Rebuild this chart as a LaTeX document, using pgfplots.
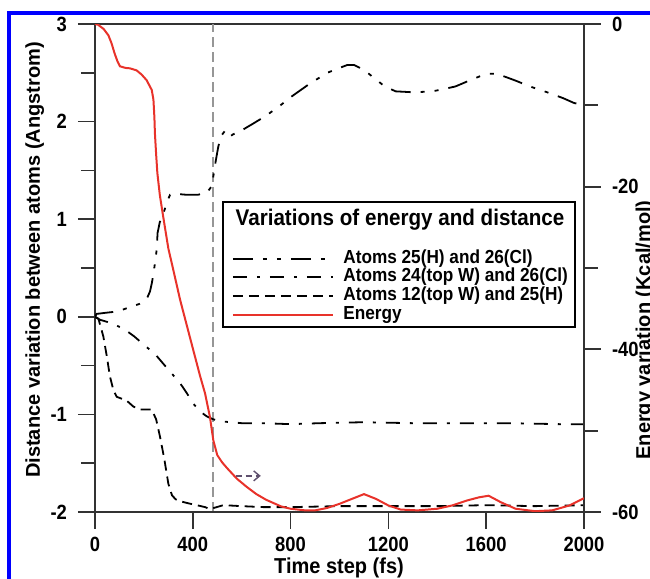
\documentclass[border=0pt]{standalone}
\usepackage{pgfplots}
\pgfplotsset{compat=1.18}
\usepackage{pgfplotstable}
\usepackage{fontspec}
\setmainfont{Liberation Sans}
\usetikzlibrary{arrows.meta}
\definecolor{axgray}{RGB}{50,50,50}
\definecolor{ered}{RGB}{232,50,42}
\definecolor{arrowc}{RGB}{95,80,110}
\definecolor{vgray}{RGB}{150,150,150}

% Atoms 25(H) and 26(Cl)
\pgfplotstableread{
x y
0 0
7 0.03
40 0.04
75 0.05
110 0.07
143 0.10
180 0.13
211 0.18
225 0.26
232 0.34
240 0.45
245 0.55
252 0.68
256 0.86
265 0.97
280 1.06
295 1.18
307 1.25
330 1.26
375 1.25
420 1.25
457 1.27
475 1.33
484 1.44
494 1.60
504 1.74
515 1.85
530 1.90
548 1.84
565 1.87
600 1.91
647 1.98
693 2.05
750 2.15
800 2.25
879 2.39
950 2.50
1000 2.55
1032 2.58
1060 2.58
1100 2.53
1140 2.45
1185 2.36
1230 2.31
1304 2.30
1380 2.31
1420 2.33
1474 2.36
1540 2.43
1580 2.47
1610 2.49
1640 2.49
1677 2.46
1720 2.42
1779 2.36
1850 2.30
1915 2.24
1960 2.19
2000 2.17
}\sone

% Atoms 24(top W) and 26(Cl)
\pgfplotstableread{
x y
0 0
20 -0.03
60 -0.06
116 -0.12
160 -0.20
211 -0.31
245 -0.38
279 -0.48
310 -0.57
348 -0.68
375 -0.78
402 -0.89
430 -0.97
457 -1.02
483 -1.05
511 -1.07
600 -1.09
688 -1.09
800 -1.10
920 -1.09
1100 -1.08
1300 -1.09
1500 -1.09
1700 -1.09
1900 -1.10
2000 -1.10
}\stwo

% Atoms 12(top W) and 25(H)
\pgfplotstableread{
x y
0 0
14 -0.02
34 -0.20
48 -0.40
61 -0.61
75 -0.75
89 -0.82
110 -0.84
130 -0.86
157 -0.92
184 -0.95
210 -0.95
232 -0.95
250 -1.05
266 -1.23
283 -1.45
300 -1.71
315 -1.83
330 -1.87
348 -1.89
380 -1.91
416 -1.93
450 -1.95
470 -1.97
484 -1.96
525 -1.93
600 -1.94
688 -1.95
800 -1.95
1000 -1.94
1200 -1.94
1400 -1.94
1600 -1.93
1800 -1.94
2000 -1.93
}\sthree

% Energy
\pgfplotstableread{
x y
0 0
13 -0.1
35 -0.6
55 -1.4
68 -2.4
80 -3.6
92 -4.6
102 -5.2
125 -5.4
143 -5.45
170 -5.7
190 -6.2
211 -6.9
232 -8.1
239 -9.3
243 -11.5
245 -13.4
250 -16
255 -18.3
265 -21
279 -23.7
300 -27.6
320 -30.2
348 -33.9
375 -37
402 -40.1
430 -43.3
450 -45.4
470 -48.3
484 -51.2
500 -53.0
520 -53.9
540 -54.6
580 -55.9
620 -56.9
660 -57.8
700 -58.5
760 -59.3
800 -59.6
860 -59.8
900 -59.8
950 -59.5
1000 -59.0
1050 -58.4
1100 -57.8
1150 -58.4
1200 -59.2
1250 -59.7
1320 -59.8
1400 -59.6
1460 -59.2
1520 -58.6
1570 -58.2
1610 -58.0
1660 -58.8
1720 -59.6
1800 -59.9
1870 -59.8
1940 -59.2
2000 -58.3
}\energy

\tikzset{
  s1style/.style={black, line width=0.9pt, dash pattern=on 10pt off 5pt on 2pt off 5pt on 2pt off 5pt},
  s2style/.style={black, line width=0.9pt, dash pattern=on 7pt off 5pt on 1.5pt off 5pt},
  s3style/.style={black, line width=0.9pt, dash pattern=on 5pt off 3pt},
  estyle/.style={ered, line width=1pt},
}

\pgfplotsset{
  common/.style={
    at={(47.5pt,33.5pt)}, anchor=south west,
    width=244.5pt, height=244pt, scale only axis,
    xmin=0, xmax=2000,
    axis line style={axgray, line width=0.85pt},
    every tick/.style={axgray, line width=0.85pt},
    tick align=outside,
    tick label style={font=\fontsize{9.2}{10}\selectfont\bfseries, yscale=1.12},
    /pgf/number format/assume math mode=true,
    /pgf/number format/1000 sep={},
    scaled ticks=false,
  }
}

\begin{document}
\begin{tikzpicture}[x=0.5pt,y=0.5pt]
\path[use as bounding box] (0,0) rectangle (650,579);
\draw[blue, line width=2.2pt] (9,-10) -- (9,566) -- (660,566);

% main distance axis
\begin{axis}[common,
  ymin=-2, ymax=3,
  xtick={0,400,...,2000}, xtick pos=bottom,
  ytick={-2,-1,0,1,2,3}, minor ytick={-1.5,-0.5,0.5,1.5,2.5}, ytick pos=left,
  major tick length=8.5pt, minor tick length=7pt,
  yticklabel style={xshift=-2pt},
  xticklabel style={yshift=0pt},
]
\draw[vgray, line width=0.6pt, dash pattern=on 5pt off 2.5pt] (axis cs:483,-2) -- (axis cs:483,3);
\addplot[s1style] table[x=x,y=y] {\sone};
\addplot[s2style] table[x=x,y=y] {\stwo};
\addplot[s3style] table[x=x,y=y] {\sthree};
\draw[arrowc, line width=0.7pt, dash pattern=on 3pt off 2pt, -{Straight Barb[length=3pt,width=5pt]}] (axis cs:575,-1.63) -- (axis cs:678,-1.63);
\end{axis}

% x minor ticks
\begin{axis}[common,
  ymin=-2, ymax=3,
  hide y axis, axis x line*=bottom,
  xtick=\empty, minor xtick={200,600,1000,1400,1800},
  minor tick length=4pt,
]
\end{axis}

% energy axis
\begin{axis}[common,
  ymin=-60, ymax=0,
  hide x axis, axis y line*=right,
  ytick={-60,-40,-20,0}, minor ytick={-50,-30,-10},
  major tick length=8.5pt, minor tick length=7pt,
  yticklabel style={xshift=2pt},
]
\addplot[estyle] table[x=x,y=y] {\energy};
\end{axis}

% axis titles
\node[rotate=90, anchor=base, font=\fontsize{10}{12}\selectfont\bfseries] at (40,319) {Distance variation between atoms (Angstrom)};
\node[rotate=90, anchor=base, font=\fontsize{10}{12}\selectfont\bfseries] at (650,249) {Energy variation (Kcal/mol)};
\node[anchor=base, yscale=1.08, font=\fontsize{10}{12}\selectfont\bfseries] at (339,5) {Time step (fs)};

% legend
\draw[black, line width=0.8pt, fill=white] (223,377) rectangle (575,252);
\node[yscale=1.1, font=\fontsize{10.3}{12}\selectfont\bfseries] at (400,359) {Variations of energy and distance};
\draw[s1style] (233,320) -- (333,320);
\draw[s2style] (233,302) -- (333,302);
\draw[s3style] (233,283) -- (333,283);
\draw[estyle] (233,264) -- (333,264);
\begin{scope}[every node/.style={anchor=west, inner sep=0pt, yscale=1.1, font=\fontsize{8.6}{10}\selectfont\bfseries}]
\node at (343,320) {Atoms 25(H) and 26(Cl)};
\node at (343,302) {Atoms 24(top W) and 26(Cl)};
\node at (343,283) {Atoms 12(top W) and 25(H)};
\node at (343,264) {Energy};
\end{scope}
\end{tikzpicture}
\end{document}
